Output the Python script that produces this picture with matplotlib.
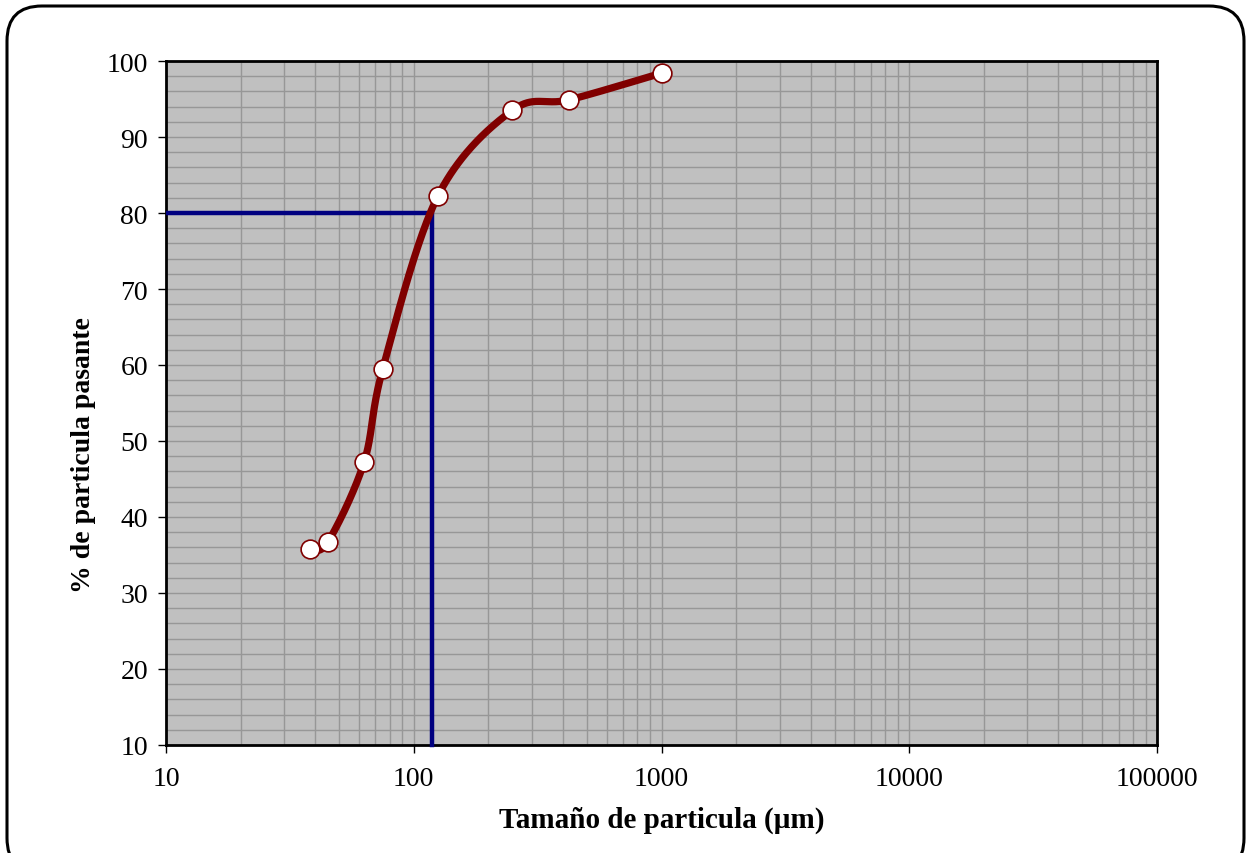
import numpy as np
import matplotlib
matplotlib.use("Agg")
import matplotlib.pyplot as plt
from matplotlib.patches import FancyBboxPatch
from matplotlib.ticker import FixedLocator, NullFormatter, FixedFormatter

# Particle size distribution (cumulative % passing)
size_um = [38, 45, 63, 75, 125, 250, 425, 1000]
pct_passing = [35.8, 36.7, 47.2, 59.5, 82.2, 93.5, 94.9, 98.4]

# P80 reference
p80_size = 118
p80_value = 80

x_major = [10, 100, 1000, 10000, 100000]
x_major_labels = ["10", "100", "1000", "10000", "100000"]
y_major = list(range(10, 101, 10))

plt.rcParams['font.family'] = ['Liberation Serif', 'DejaVu Serif']

W, H = 1249, 854
fig = plt.figure(figsize=(W / 100, H / 100), dpi=100)
ax = fig.add_axes([166 / W, 1 - 746 / H, (1157 - 166) / W, (746 - 62) / H])

# rounded outer frame (bottom edge runs past the canvas)
frame = FancyBboxPatch((7 / W, -20 / H), (1244 - 7) / W, (847 + 20) / H,
                       boxstyle="round,pad=0,rounding_size=0.028",
                       transform=fig.transFigure, fill=False, edgecolor="black",
                       linewidth=2.2, mutation_aspect=W / H, clip_on=False)
fig.patches.append(frame)

ax.set_xscale("log")
ax.set_xlim(10, 100000)
ax.set_ylim(10, 100)
ax.set_facecolor("#c0c0c0")

ax.xaxis.set_major_locator(FixedLocator(x_major))
ax.xaxis.set_major_formatter(FixedFormatter(x_major_labels))
minor_x = [m * d for d in [10, 100, 1000, 10000] for m in range(2, 10)]
ax.xaxis.set_minor_locator(FixedLocator(minor_x))
ax.xaxis.set_minor_formatter(NullFormatter())
ax.yaxis.set_major_locator(FixedLocator(y_major))
ax.yaxis.set_minor_locator(FixedLocator(np.arange(10, 100.1, 2)))

ax.grid(True, which="both", color="#979797", linewidth=1.0)
ax.set_axisbelow(True)
ax.tick_params(axis="both", which="major", direction="out", length=6, width=1,
               labelsize=20, color="black")
ax.tick_params(axis="x", which="major", pad=9)
ax.tick_params(axis="y", which="major", pad=7)
ax.tick_params(axis="both", which="minor", length=0)
for s in ax.spines.values():
    s.set_linewidth(2)
    s.set_color("black")

fig.canvas.draw()

# Smoothed curve: cubic Bezier segments built in display space
pts = ax.transData.transform(np.column_stack([size_um, pct_passing]))
n = len(pts)
curve = []
for i in range(n - 1):
    p0 = pts[i]
    p3 = pts[i + 1]
    prev = pts[i - 1] if i > 0 else pts[i]
    nxt = pts[i + 2] if i + 2 < n else pts[i + 1]
    c1 = p0 + (p3 - prev) / 6.0
    c2 = p3 - (nxt - p0) / 6.0
    t = np.linspace(0, 1, 60)[:, None]
    seg = ((1 - t) ** 3) * p0 + 3 * ((1 - t) ** 2) * t * c1 + 3 * (1 - t) * t ** 2 * c2 + t ** 3 * p3
    curve.append(seg if i == 0 else seg[1:])
curve = np.vstack(curve)
curve_data = ax.transData.inverted().transform(curve)

ax.plot([10, p80_size], [p80_value, p80_value], color="#000080", linewidth=3.2,
        solid_capstyle="butt", zorder=3, clip_on=False)
ax.plot([p80_size, p80_size], [p80_value, 10], color="#000080", linewidth=3.2,
        solid_capstyle="projecting", zorder=3, clip_on=False)

ax.plot(curve_data[:, 0], curve_data[:, 1], color="#800000", linewidth=5.2,
        solid_capstyle="round", zorder=4)
ax.plot(size_um, pct_passing, linestyle="none", marker="o", markersize=13.5,
        markerfacecolor="white", markeredgecolor="#800000", markeredgewidth=1.2, zorder=5)

ax.set_xlabel("Tamaño de particula (µm)", fontsize=21, fontweight="bold", labelpad=11)
ax.set_ylabel("% de particula pasante", fontsize=20, fontweight="bold", va="center")
ax.yaxis.set_label_coords(-0.0835, 0.425)

fig.savefig("out.png", dpi=100)
